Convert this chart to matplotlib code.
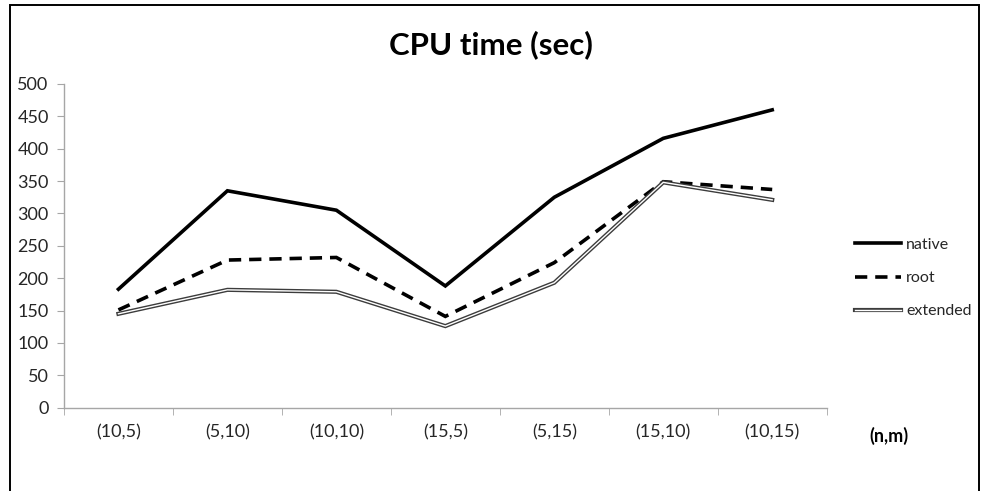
import matplotlib
matplotlib.use('Agg')
import matplotlib.pyplot as plt
from matplotlib.lines import Line2D
from matplotlib.legend_handler import HandlerTuple
from matplotlib.patches import Rectangle

plt.rcParams['font.family'] = ['Lato', 'DejaVu Sans']

# ===== data =====
categories = ['(10,5)', '(5,10)', '(10,10)', '(15,5)', '(5,15)', '(15,10)', '(10,15)']
native = [183, 335, 305, 188, 325, 416, 460]
root = [151, 228, 232, 141, 224, 349, 337]
extended = [145, 182, 179, 126, 193, 348, 321]
y_ticks = [0, 50, 100, 150, 200, 250, 300, 350, 400, 450, 500]

fig = plt.figure(figsize=(9.81, 4.91), dpi=100)
ax = fig.add_axes([0.0652, 0.1697, 0.7775, 0.6593])

# outer chart border (bottom edge is cropped off)
fig.patches.append(Rectangle((10 / 981, -0.05), 969 / 981, 1 - 5 / 491 + 0.05,
                             transform=fig.transFigure, fill=False,
                             edgecolor='black', linewidth=1.4))

x = list(range(len(categories)))

ax.plot(x, native, color='black', lw=2.6, solid_joinstyle='miter')
ax.plot(x, root, color='black', lw=2.6, linestyle=(0, (3.4, 2.2)),
        dash_capstyle='butt', dash_joinstyle='miter')
ax.plot(x, extended, color='#3c3c3c', lw=3.0, solid_joinstyle='miter')
ax.plot(x, extended, color='white', lw=1.0, solid_joinstyle='miter')

ax.set_xlim(-0.5, len(categories) - 0.5)
ax.set_ylim(0, 500)
ax.set_yticks(y_ticks)
ax.set_xticks(x)
ax.set_xticklabels(categories)
ax.set_xticks([i - 0.5 for i in range(len(categories) + 1)], minor=True)

for s in ['top', 'right']:
    ax.spines[s].set_visible(False)
for s in ['left', 'bottom']:
    ax.spines[s].set_color('#a6a6a6')
    ax.spines[s].set_linewidth(1.0)

ax.tick_params(axis='y', colors='#a6a6a6', labelcolor='#262626', length=5,
               labelsize=13, pad=6)
ax.tick_params(axis='x', which='major', length=0, labelcolor='#262626',
               labelsize=13, pad=12)
ax.tick_params(axis='x', which='minor', colors='#a6a6a6', length=5)

fig.text(0.5, 0.908, 'CPU time (sec)', ha='center', va='center',
         fontsize=22.5, fontweight='bold', color='black')
fig.text(869 / 981, 1 - 436 / 491, '(n,m)', ha='left', va='center',
         fontsize=13, fontweight='bold', color='black')

h_native = Line2D([], [], color='black', lw=2.6)
h_root = Line2D([], [], color='black', lw=2.6, linestyle=(0, (3.4, 2.2)),
                dash_capstyle='butt')
h_ext = (Line2D([], [], color='#3c3c3c', lw=3.0),
         Line2D([], [], color='white', lw=1.0))
fig.legend([h_native, h_root, h_ext], ['native', 'root', 'extended'],
           handler_map={tuple: HandlerTuple(ndivide=1)},
           loc='center left', bbox_to_anchor=(855 / 981, 1 - 278 / 491),
           frameon=False, fontsize=11.5, handlelength=2.9, handletextpad=0.3,
           labelspacing=1.2, borderpad=0, borderaxespad=0, labelcolor='#262626')

fig.savefig('out.png', dpi=100, facecolor='white')
